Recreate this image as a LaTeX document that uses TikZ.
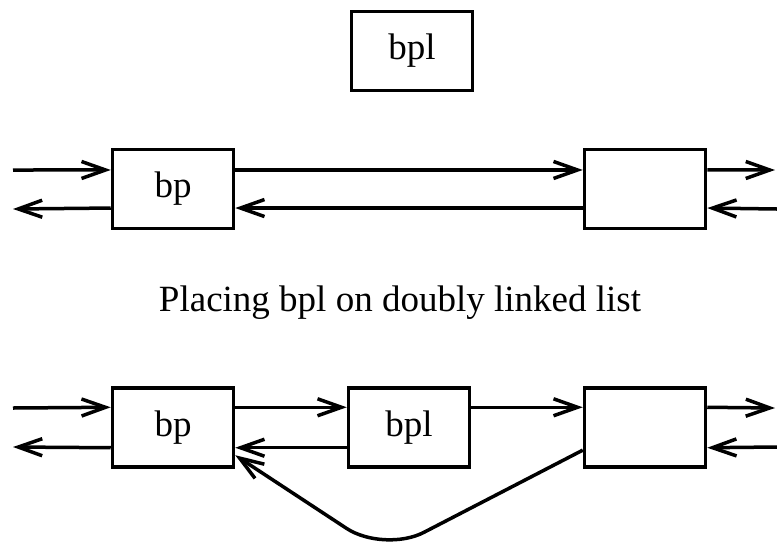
\documentclass[tikz,border=0pt]{standalone}
\usepackage{fontspec}
\setmainfont{Liberation Serif}
\usetikzlibrary{arrows.meta}

\tikzstyle{block} = [rectangle, draw, line width=3.5pt,
minimum width=121pt, minimum height=79pt, inner sep=0pt, font=\fontsize{37}{40}\selectfont]
\tikzstyle{line} = [draw, line width=3.5pt, -{Straight Barb[length=24pt,width=17pt]}]

\begin{document}
\begin{tikzpicture}[x=1pt, y=-1pt]
		\useasboundingbox (0,0) rectangle (777,542);
		\node [block] (bpl) at (412,51) {bpl};

		% before
		\node [block] (bpA) at (173,189) {bp};
		\node [block] (nextA) at (645,189) {};
		\coordinate (inA) at (13,170);
		\coordinate (outA) at (13,209);
		\coordinate (outB) at (775,170);
		\coordinate (inB) at (777,209);

		\path [line] (inA) -- (bpA.163);
		\path [line] (bpA.197) -- (outA);
		\path [line] (bpA.17) -- (nextA.163);
		\path [line] (nextA.197) -- (bpA.-17);
		\path [line] (nextA.17) -- (outB);
		\path [line] (inB) -- (nextA.-17);

		\node [font=\fontsize{37}{40}\selectfont, anchor=base] (caption) at (400,311) {Placing bpl on doubly linked list};

		% after
		\node [block] (bpB) at (173,427.5) {bp};
		\node [block] (bplB) at (409,427.5) {bpl};
		\node [block] (nextB) at (645,427.5) {};
		\coordinate (inC) at (13,408);
		\coordinate (outC) at (13,447);
		\coordinate (outD) at (775,408);
		\coordinate (inD) at (777,447);
		\coordinate (dip) at (384,553);

		\path [line] (inC) -- (bpB.162);
		\path [line] (bpB.198) -- (outC);
		\path [line] (bpB.18) -- (bplB.162);
		\path [line] (bplB.198) -- (bpB.-18);
		\path [line] (bplB.18) -- (nextB.162);
		\path [line, rounded corners=45pt] (nextB.200) -- (dip) -- (bpB.-24);
		\path [line] (nextB.18) -- (outD);
		\path [line] (inD) -- (nextB.-18);
	\end{tikzpicture}
\end{document}
